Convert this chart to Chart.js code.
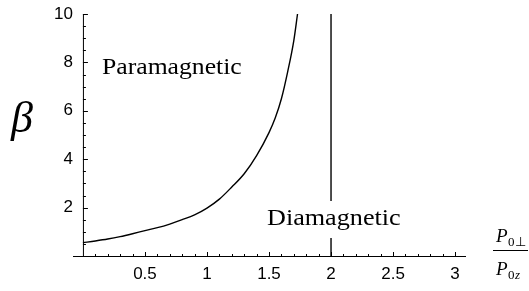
<!DOCTYPE html>
<html>
<head>
<meta charset="utf-8">
<script src="https://cdn.jsdelivr.net/npm/chart.js@4"></script>
<style>
    html, body { margin: 0; padding: 0; background: #fff; }
    #wrap { width: 529px; height: 291px; }
</style>
</head>
<body>
<div id="wrap"><canvas id="chartBeta"></canvas></div>
<script>

// =====================================================
// Datos
// =====================================================

const ratioValues = [0, 0.1, 0.2, 0.3, 0.4, 0.5, 0.6, 0.7, 0.8, 0.9, 1.0, 1.1, 1.2, 1.3, 1.4, 1.5, 1.55, 1.6, 1.65, 1.7, 1.73];
const betaValues  = [0.55, 0.62, 0.7, 0.8, 0.92, 1.05, 1.17, 1.32, 1.5, 1.7, 1.98, 2.35, 2.85, 3.4, 4.15, 5.1, 5.7, 6.5, 7.6, 8.9, 10.0];

const boundaryRatio = 2;
const boundaryBeta = [0, 10];

const xTickValues = [0.5, 1, 1.5, 2, 2.5, 3];
const yTickValues = [2, 4, 6, 8, 10];

const regionLabels = ["Paramagnetic", "Diamagnetic"];


// =====================================================
// Plugin: ejes, marcas y textos
// =====================================================

const decoraciones = {
    id: "decoraciones",
    afterDatasetsDraw(chart) {
        const ctx = chart.ctx;
        const xs = chart.scales.x;
        const ys = chart.scales.y;
        const x0 = xs.getPixelForValue(0);
        const yb = ys.getPixelForValue(0);
        const yt = ys.getPixelForValue(10);

        ctx.save();
        ctx.strokeStyle = "#000";
        ctx.lineWidth = 1;

        // eje vertical
        ctx.beginPath();
        ctx.moveTo(x0 + 0.5, yb);
        ctx.lineTo(x0 + 0.5, yt);
        ctx.stroke();

        // marcas eje y
        for (let v = 0.5; v <= 10.001; v += 0.5) {
            const py = Math.round(ys.getPixelForValue(v)) + 0.5;
            const len = (Math.abs(v % 2) < 0.01) ? 5 : 3;
            ctx.beginPath();
            ctx.moveTo(x0, py);
            ctx.lineTo(x0 + len, py);
            ctx.stroke();
        }

        // marcas eje x
        for (let i = 1; i <= 30; i++) {
            const v = i / 10;
            const px = Math.round(xs.getPixelForValue(v)) + 0.5;
            const len = (i % 5 === 0) ? 4 : 2;
            ctx.beginPath();
            ctx.moveTo(px, yb);
            ctx.lineTo(px, yb - len);
            ctx.stroke();
        }

        // textos de regiones
        ctx.fillStyle = "#000";
        ctx.font = "24px 'Liberation Serif', serif";
        ctx.textBaseline = "alphabetic";
        ctx.textAlign = "left";

        ctx.save();
        ctx.translate(102, 74);
        ctx.scale(1.07, 1);
        ctx.fillText(regionLabels[0], 0, 0);
        ctx.restore();

        ctx.fillStyle = "#fff";
        ctx.fillRect(262, 201, 146, 37);
        ctx.fillStyle = "#000";
        ctx.save();
        ctx.translate(267, 225);
        ctx.scale(1.09, 1);
        ctx.fillText(regionLabels[1], 0, 0);
        ctx.restore();

        // beta
        ctx.font = "italic 44px 'Liberation Serif', serif";
        ctx.textAlign = "center";
        ctx.fillText("\u03B2", 22, 132);

        // fraccion P0perp / P0z
        ctx.textAlign = "left";
        ctx.font = "italic 19px 'Liberation Serif', serif";
        ctx.fillText("P", 496, 242);
        ctx.fillText("P", 496, 275);
        ctx.font = "13px 'Liberation Serif', serif";
        ctx.fillText("0\u22A5", 508, 246);
        ctx.fillText("0", 508, 279);
        ctx.font = "italic 13px 'Liberation Serif', serif";
        ctx.fillText("z", 515, 279);

        ctx.beginPath();
        ctx.moveTo(493, 250.5);
        ctx.lineTo(528, 250.5);
        ctx.stroke();

        ctx.restore();
    }
};


// =====================================================
// Grafico
// =====================================================

const tickFont = { family: "'Liberation Sans', Arial, sans-serif", size: 17 };

new Chart(document.getElementById("chartBeta"), {

    type: "line",

    data: {
        datasets: [
            {
                data: ratioValues.map((r, i) => ({ x: r, y: betaValues[i] })),
                borderColor: "#000",
                borderWidth: 1.4,
                pointRadius: 0,
                cubicInterpolationMode: "monotone",
                fill: false
            },
            {
                data: boundaryBeta.map(b => ({ x: boundaryRatio, y: b })),
                borderColor: "#000",
                borderWidth: 1.4,
                pointRadius: 0,
                fill: false
            }
        ]
    },

    options: {
        responsive: true,
        maintainAspectRatio: false,
        animation: false,
        layout: {
            padding: { top: 14, right: 64, left: 0, bottom: 0 }
        },
        plugins: {
            legend: { display: false },
            tooltip: { enabled: false }
        },
        scales: {
            x: {
                type: "linear",
                min: -0.08,
                max: 3.08,
                afterBuildTicks: (scale) => {
                    scale.ticks = xTickValues.map(v => ({ value: v }));
                },
                afterFit: (scale) => { scale.height = 35; },
                grid: { display: false, drawTicks: false },
                border: { display: true, color: "#000", width: 1 },
                ticks: {
                    color: "#000",
                    font: tickFont,
                    padding: 8,
                    maxRotation: 0,
                    autoSkip: false,
                    callback: (v) => String(v)
                }
            },
            y: {
                type: "linear",
                min: 0,
                max: 10,
                afterBuildTicks: (scale) => {
                    scale.ticks = yTickValues.map(v => ({ value: v }));
                },
                afterFit: (scale) => { scale.width = 73; },
                grid: { display: false, drawTicks: false },
                border: { display: false },
                ticks: {
                    color: "#000",
                    font: tickFont,
                    padding: 0,
                    autoSkip: false,
                    callback: (v) => String(v)
                }
            }
        }
    },

    plugins: [decoraciones]

});

</script>
</body>
</html>
